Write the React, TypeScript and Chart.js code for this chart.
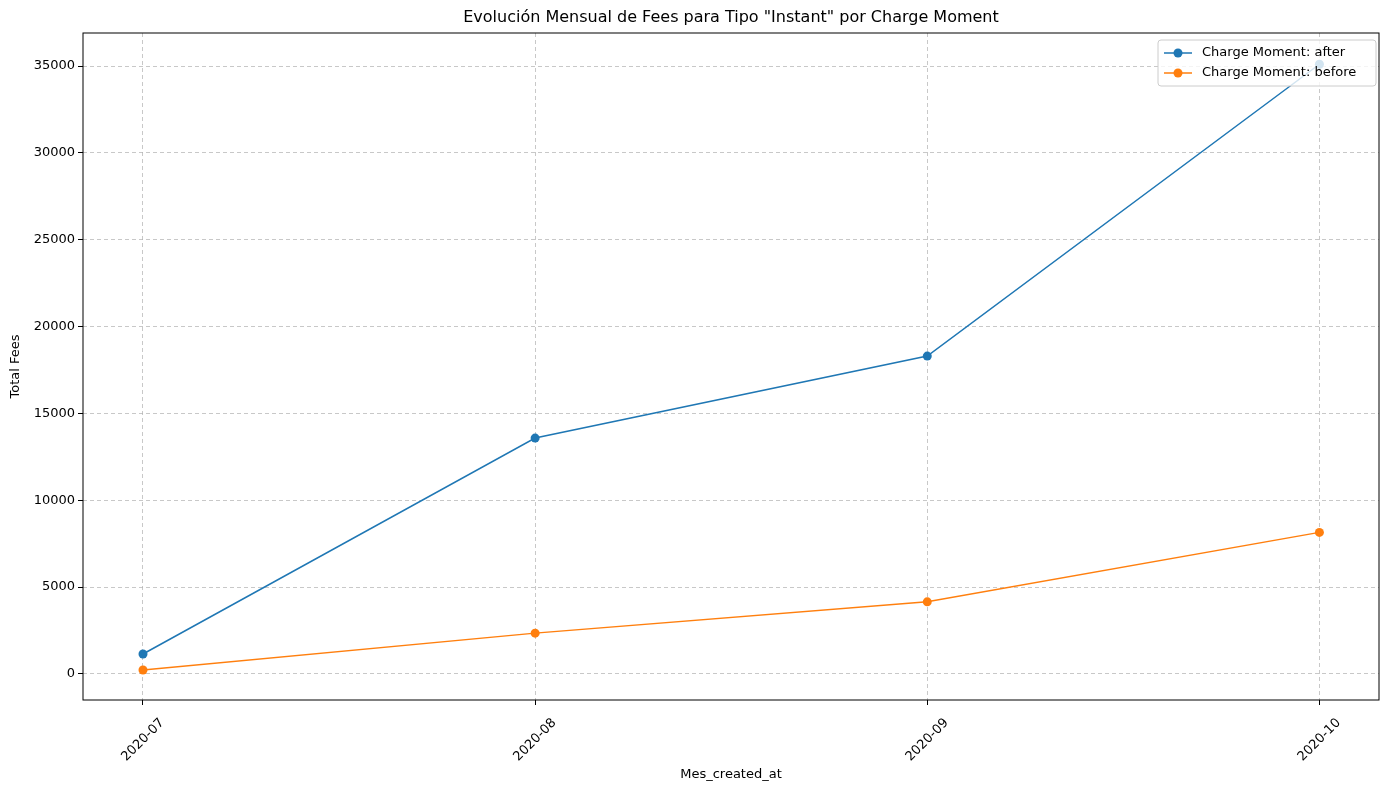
import { useEffect, useRef } from "react";
import { Chart, registerables } from "chart.js";

Chart.register(...registerables);

const months = ["2020-07", "2020-08", "2020-09", "2020-10"];
const afterFees = [1150, 13580, 18300, 35100];
const beforeFees = [230, 2350, 4150, 8150];
const yTicks = [0, 5000, 10000, 15000, 20000, 25000, 30000, 35000];

const BLUE = "#1f77b4";
const ORANGE = "#ff7f0e";
const FONT = "'DejaVu Sans', sans-serif";

const framePlugin = {
  id: "frame",
  afterDraw(chart: any) {
    const { ctx, chartArea: a } = chart;
    ctx.save();
    ctx.strokeStyle = "#000";
    ctx.lineWidth = 1;
    ctx.strokeRect(a.left, a.top, a.right - a.left, a.bottom - a.top);

    ctx.fillStyle = "#000";
    ctx.font = `16px ${FONT}`;
    ctx.textAlign = "center";
    ctx.textBaseline = "middle";
    ctx.fillText('Evolución Mensual de Fees para Tipo "Instant" por Charge Moment', (a.left + a.right) / 2, 18);

    // rotated x tick labels, centred on the tick like matplotlib
    const xs = chart.scales.x;
    ctx.font = `13px ${FONT}`;
    months.forEach((m, i) => {
      ctx.save();
      ctx.translate(xs.getPixelForValue(i), a.bottom + 40);
      ctx.rotate(-Math.PI / 4);
      ctx.fillText(m, 0, 0);
      ctx.restore();
    });

    // legend box
    const w = 218, h = 46, x = a.right - w - 3, y = a.top + 7;
    ctx.fillStyle = "rgba(255,255,255,0.8)";
    ctx.strokeStyle = "#ccc";
    ctx.beginPath();
    ctx.roundRect(x, y, w, h, 3);
    ctx.fill();
    ctx.stroke();
    const items = [["Charge Moment: after", BLUE], ["Charge Moment: before", ORANGE]];
    ctx.font = `13px ${FONT}`;
    ctx.textAlign = "left";
    items.forEach(([label, c], i) => {
      const cy = y + 13 + i * 20;
      ctx.strokeStyle = c;
      ctx.lineWidth = 1.5;
      ctx.beginPath();
      ctx.moveTo(x + 6, cy);
      ctx.lineTo(x + 34, cy);
      ctx.stroke();
      ctx.fillStyle = c;
      ctx.beginPath();
      ctx.arc(x + 20, cy, 4.5, 0, Math.PI * 2);
      ctx.fill();
      ctx.fillStyle = "#000";
      ctx.fillText(label, x + 44, cy);
    });
    ctx.restore();
  },
};

export default function App() {
  const ref = useRef<HTMLCanvasElement | null>(null);

  useEffect(() => {
    if (!ref.current) return;
    document.body.style.margin = "0";
    const grid = { color: "rgba(176,176,176,0.7)", tickColor: "#000", tickLength: 5, lineWidth: 1 };
    const chart = new Chart(ref.current, {
      type: "line",
      data: {
        datasets: [
          {
            label: "Charge Moment: after",
            data: afterFees.map((v, i) => ({ x: i, y: v })),
            borderColor: BLUE,
            backgroundColor: BLUE,
            borderWidth: 1.5,
            pointRadius: 4.5,
            pointBorderWidth: 0,
          },
          {
            label: "Charge Moment: before",
            data: beforeFees.map((v, i) => ({ x: i, y: v })),
            borderColor: ORANGE,
            backgroundColor: ORANGE,
            borderWidth: 1.5,
            pointRadius: 4.5,
            pointBorderWidth: 0,
          },
        ],
      },
      options: {
        animation: false,
        responsive: true,
        maintainAspectRatio: false,
        layout: { padding: { top: 33, right: 10, left: 0, bottom: 0 } },
        plugins: { legend: { display: false }, tooltip: { enabled: false } },
        scales: {
          x: {
            type: "linear",
            min: -0.153,
            max: 3.152,
            afterBuildTicks: (s: any) => {
              s.ticks = months.map((_, i) => ({ value: i }));
            },
            afterFit: (s: any) => {
              s.height = 90;
            },
            grid: { ...grid },
            border: { dash: [4, 3], display: false },
            ticks: {
              color: "#000",
              font: { family: FONT, size: 13 },
              maxRotation: 0,
              callback: () => "",
            },
            title: { display: true, text: "Mes_created_at", color: "#000", font: { family: FONT, size: 13 }, padding: { top: 0, bottom: 8 } },
          },
          y: {
            min: -1500,
            max: 36900,
            afterBuildTicks: (s: any) => {
              s.ticks = yTicks.map((v) => ({ value: v }));
            },
            afterFit: (s: any) => {
              s.width = 83;
            },
            grid: { ...grid },
            border: { dash: [4, 3], display: false },
            ticks: {
              color: "#000",
              font: { family: FONT, size: 13 },
              callback: (v: any) => String(v),
            },
            title: { display: true, text: "Total Fees", color: "#000", font: { family: FONT, size: 13 }, padding: { top: 8, bottom: 0 } },
          },
        },
      },
      plugins: [framePlugin],
    } as any);
    return () => chart.destroy();
  }, []);

  return (
    <div style={{ position: "fixed", left: 0, top: 0, width: 1389, height: 790, background: "#fff" }}>
      <canvas ref={ref} />
    </div>
  );
}
